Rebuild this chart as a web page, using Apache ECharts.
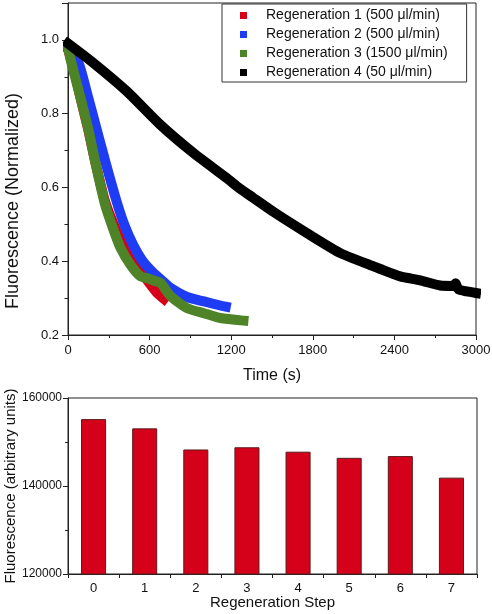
<!DOCTYPE html>
<html>
<head>
<meta charset="utf-8">
<script src="https://cdn.jsdelivr.net/npm/echarts@6/dist/echarts.min.js"></script>
<style>
html,body{margin:0;padding:0;background:#fff;}
#c{width:492px;height:614px;}
</style>
</head>
<body>
<div id="c"></div>
<script>
// ---- Top chart data (time in s, normalized fluorescence) ----
var seriesNames = [
  'Regeneration 1 (500 \u03bcl/min)',
  'Regeneration 2 (500 \u03bcl/min)',
  'Regeneration 3 (1500 \u03bcl/min)',
  'Regeneration 4 (50 \u03bcl/min)'
];
var reg1Time  = [0, 40, 90, 150, 200, 270, 330, 390, 450, 510, 560, 610, 660, 705];
var reg1Value = [0.975, 0.925, 0.846, 0.755, 0.67, 0.565, 0.505, 0.455, 0.415, 0.385, 0.36, 0.335, 0.312, 0.298];
var reg2Time  = [0, 40, 85, 147, 220, 282, 355, 413, 478, 550, 629, 700, 752, 875, 1000, 1120, 1160];
var reg2Value = [0.975, 0.96, 0.93, 0.846, 0.745, 0.66, 0.565, 0.5, 0.445, 0.40, 0.368, 0.345, 0.328, 0.303, 0.291, 0.28, 0.277];
var reg3Time  = [0, 20, 90, 151, 202, 273, 330, 385, 460, 530, 600, 650, 680, 750, 875, 1000, 1120, 1290];
var reg3Value = [0.98, 0.945, 0.846, 0.756, 0.666, 0.553, 0.49, 0.437, 0.39, 0.36, 0.352, 0.345, 0.342, 0.307, 0.273, 0.259, 0.246, 0.239];
var reg4Time  = [0, 188, 434, 679, 924, 1169, 1263, 1362, 1514, 1758, 2003, 2247, 2296, 2443, 2590, 2737, 2830, 2850, 2870, 2933, 3000];
var reg4Value = [0.99, 0.937, 0.860, 0.770, 0.693, 0.625, 0.597, 0.572, 0.533, 0.476, 0.422, 0.386, 0.379, 0.359, 0.348, 0.334, 0.333, 0.34, 0.324, 0.318, 0.314];
var lineColors = ['#d7001a', '#1f3cf5', '#4e8327', '#000000'];

// ---- Bottom chart data ----
var stepLabels = ['0', '1', '2', '3', '4', '5', '6', '7'];
var stepValues = [155200, 153100, 148300, 148800, 147800, 146400, 146800, 141900];

function pairs(t, v) { return t.map(function (x, i) { return [x, v[i]]; }); }
var allTimes = [reg1Time, reg2Time, reg3Time, reg4Time];
var allValues = [reg1Value, reg2Value, reg3Value, reg4Value];

var FONT = '"Liberation Sans", Arial, sans-serif';
var AX = '#222';

var chart = echarts.init(document.getElementById('c'), null, { renderer: 'canvas' });

var lineSeries = seriesNames.map(function (name, i) {
  return {
    name: name,
    type: 'line',
    xAxisIndex: 0, yAxisIndex: 0,
    data: pairs(allTimes[i], allValues[i]),
    showSymbol: false,
    symbol: 'rect',
    smooth: 0.2,
    lineStyle: { width: 10, color: lineColors[i], cap: 'square', join: 'round' },
    itemStyle: { color: lineColors[i] },
    animation: false,
    z: 2 + i
  };
});

var option = {
  animation: false,
  backgroundColor: '#fff',
  textStyle: { fontFamily: FONT },
  legend: {
    data: seriesNames,
    orient: 'vertical',
    left: 222, top: 4,
    padding: [3, 19, 1, 18],
    itemGap: 2,
    itemWidth: 7, itemHeight: 7,
    icon: 'rect',
    borderColor: '#333', borderWidth: 1,
    backgroundColor: '#fff',
    textStyle: { fontFamily: FONT, fontSize: 14, color: '#111', padding: [0, 0, 0, 14], lineHeight: 17 },
    selectedMode: false,
    z: 20
  },
  grid: [
    { left: 68, top: 3, width: 408, height: 332, show: true, borderColor: AX, borderWidth: 1,
      backgroundColor: 'transparent', containLabel: false, outerBoundsMode: 'none' },
    { left: 68, top: 398, width: 409, height: 176, show: true, borderColor: AX, borderWidth: 1,
      backgroundColor: 'transparent', containLabel: false, outerBoundsMode: 'none' }
  ],
  xAxis: [
    {
      gridIndex: 0, type: 'value', min: 0, max: 3000, interval: 600,
      name: 'Time (s)', nameLocation: 'middle', nameGap: 33, nameMoveOverlap: false,
      nameTextStyle: { fontFamily: FONT, fontSize: 16, color: '#111' },
      axisLine: { show: true, lineStyle: { color: AX, width: 1 } },
      axisTick: { show: true, inside: false, length: 5, lineStyle: { color: AX } },
      minorTick: { show: true, splitNumber: 2, length: 3, lineStyle: { color: AX } },
      axisLabel: { fontFamily: FONT, fontSize: 13, color: '#111', margin: 9,
        formatter: function (v) { return String(v); } },
      splitLine: { show: false }
    },
    {
      gridIndex: 1, type: 'category', data: stepLabels,
      name: 'Regeneration Step', nameLocation: 'middle', nameGap: 21, nameMoveOverlap: false,
      nameTextStyle: { fontFamily: FONT, fontSize: 15, color: '#111' },
      axisLine: { show: true, lineStyle: { color: AX, width: 1 } },
      axisTick: { show: true, inside: false, length: 4, alignWithLabel: false, lineStyle: { color: AX } },
      axisLabel: { fontFamily: FONT, fontSize: 13, color: '#111', margin: 8 },
      splitLine: { show: false }
    }
  ],
  yAxis: [
    {
      gridIndex: 0, type: 'value', min: 0.2, max: 1.1, interval: 0.2,
      name: 'Fluorescence (Normalized)', nameLocation: 'middle', nameGap: 46, nameMoveOverlap: false,
      nameTextStyle: { fontFamily: FONT, fontSize: 18, color: '#111', padding: [0, 64, 0, 0] },
      nameTruncate: { maxWidth: 500 },
      axisLine: { show: true, lineStyle: { color: AX, width: 1 } },
      axisTick: { show: true, inside: false, length: 6, lineStyle: { color: AX } },
      minorTick: { show: true, splitNumber: 2, length: 3.5, lineStyle: { color: AX } },
      axisLabel: { fontFamily: FONT, fontSize: 13, color: '#111', margin: 9, showMaxLabel: false,
        formatter: function (v) { return v.toFixed(1); } },
      splitLine: { show: false }
    },
    {
      gridIndex: 1, type: 'value', min: 120000, max: 160000, interval: 20000,
      name: 'Fluorescence (arbitrary units)', nameLocation: 'middle', nameGap: 50, nameMoveOverlap: false,
      nameTextStyle: { fontFamily: FONT, fontSize: 15, color: '#111' },
      nameTruncate: { maxWidth: 500 },
      axisLine: { show: true, lineStyle: { color: AX, width: 1 } },
      axisTick: { show: true, inside: false, length: 5, lineStyle: { color: AX } },
      minorTick: { show: true, splitNumber: 2, length: 3, lineStyle: { color: AX } },
      axisLabel: { fontFamily: FONT, fontSize: 12, color: '#111', margin: 6,
        formatter: function (v) { return String(v); } },
      splitLine: { show: false }
    }
  ],
  series: lineSeries.concat([
    {
      name: 'Fluorescence',
      type: 'bar',
      xAxisIndex: 1, yAxisIndex: 1,
      data: stepValues,
      barWidth: '49%',
      itemStyle: { color: '#d5001a', borderColor: '#5a1c1c', borderWidth: 1 },
      animation: false
    }
  ])
};

chart.setOption(option);
</script>
</body>
</html>
